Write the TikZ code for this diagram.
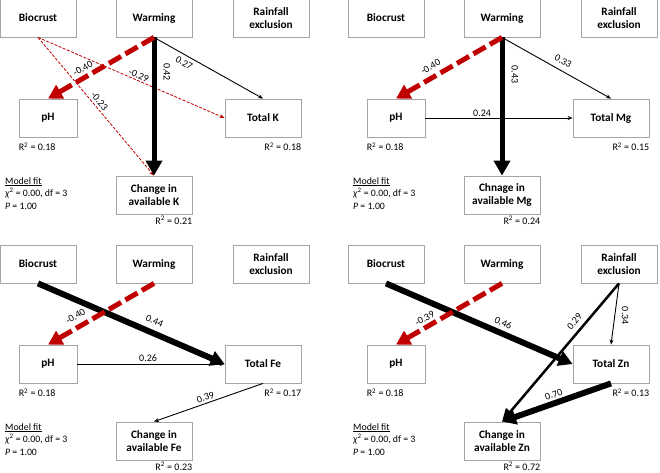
\documentclass[tikz,border=0pt]{standalone}
\usepackage{fontspec}
\setmainfont{Carlito}
\usetikzlibrary{arrows.meta}
\definecolor{myred}{HTML}{C00000}
\definecolor{boxgray}{HTML}{A5A5A5}
\newcommand\boxfont{\fontsize{11.3}{13.7}\selectfont\bfseries}
\newcommand\lblfont{\fontsize{10}{12}\selectfont}
\newcommand\mffont{\fontsize{9.8}{12.5}\selectfont}
\begin{document}
\begin{tikzpicture}[x=1pt,y=-1pt,
  box/.style={draw=boxgray, line width=0.8pt, minimum width=76pt, minimum height=38pt, inner sep=1pt, align=center, font=\boxfont},
  phbox/.style={box, minimum width=58pt},
  lbl/.style={font=\lblfont, inner sep=1pt},
  rsq/.style={font=\lblfont, inner sep=0pt},
  mf/.style={font=\mffont, inner sep=0pt, align=left},
  thinarr/.style={line width=0.9pt, -{Stealth[length=5pt,width=4pt]}},
  thinred/.style={draw=myred, line width=0.8pt, dash pattern=on 3pt off 1.5pt, -{Stealth[length=5pt,width=4pt]}},
  thickred/.style={draw=myred, line width=5pt, dash pattern=on 14pt off 5pt, -{Triangle[length=14pt,width=15pt]}},
  thickarr/.style={line width=5pt, -{Triangle[length=15pt,width=16pt]}},
  heavyarr/.style={line width=6pt, -{Triangle[length=14pt,width=15pt]}},
  medarr/.style={line width=2.5pt, -{Triangle[length=13pt,width=11pt]}},
  vlbl/.style={lbl, rotate=-90, anchor=south}
]
\useasboundingbox (0,0) rectangle (660,472);

% ---------------- Panel 1 (K) ----------------
\begin{scope}
\node[box] (B1) at (38,18) {Biocrust};
\node[box] (W1) at (154,18) {Warming};
\node[box] (R1) at (271,18) {Rainfall\\exclusion};
\node[phbox] (P1) at (48,118) {pH};
\node[box] (T1) at (263,118) {Total K};
\node[box] (C1) at (154,195) {Change in\\available K};
\draw[thinred] (B1.south) -- node[lbl, sloped, above, pos=0.53, inner sep=1pt] {-0.29} (T1.west);
\draw[thinred] (B1.south) -- node[lbl, sloped, above, pos=0.49, inner sep=2.4pt] {-0.23} (C1.north);
\draw[thinarr] (W1.south) -- node[lbl, sloped, below, pos=0.31, inner sep=3.7pt] {0.27} (T1.north);
\draw[thickarr] (W1.south) -- node[vlbl, pos=0.25, inner ysep=7pt] {0.42} (C1.north);
\draw[thickred] (W1.south) -- node[lbl, sloped, above, pos=0.63, inner sep=3pt] {-0.40} (P1.north);
\node[rsq, anchor=base west] (RP1) at ([yshift=-13.5pt]P1.south west) {R\textsuperscript{2} = 0.18};
\node[rsq, anchor=base east] (RT1) at ([yshift=-13.5pt]T1.south east) {R\textsuperscript{2} = 0.18};
\node[rsq, anchor=base east] (RC1) at ([yshift=-10.2pt]C1.south east) {R\textsuperscript{2} = 0.21};
\node[mf, anchor=north west] (M1) at (5,177) {\underline{Model fit}\\\textit{χ}\textsuperscript{2} = 0.00, df = 3\\\textit{P} = 1.00};
\end{scope}

% ---------------- Panel 2 (Mg) ----------------
\begin{scope}[shift={(348,0)}]
\node[box] (B2) at (38,18) {Biocrust};
\node[box] (W2) at (154,18) {Warming};
\node[box] (R2) at (271,18) {Rainfall\\exclusion};
\node[phbox] (P2) at (48,118) {pH};
\node[box] (T2) at (263,118) {Total Mg};
\node[box] (C2) at (154,195) {Chnage in\\available Mg};
\draw[thinarr] (P2.east) -- node[lbl, above, pos=0.385, inner sep=1pt] {0.24} (T2.west);
\draw[thinarr] (W2.south) -- node[lbl, sloped, above, pos=0.52, inner sep=5.4pt] {0.33} (T2.north);
\draw[thickarr] (W2.south) -- node[vlbl, pos=0.27, inner ysep=7pt] {0.43} (C2.north);
\draw[thickred] (W2.south) -- node[lbl, sloped, above, pos=0.625, inner sep=4.4pt] {-0.40} (P2.north);
\node[rsq, anchor=base west] (RP2) at ([yshift=-13.5pt]P2.south west) {R\textsuperscript{2} = 0.18};
\node[rsq, anchor=base east] (RT2) at ([yshift=-13.5pt]T2.south east) {R\textsuperscript{2} = 0.15};
\node[rsq, anchor=base east] (RC2) at ([yshift=-10.2pt]C2.south east) {R\textsuperscript{2} = 0.24};
\node[mf, anchor=north west] (M2) at (5,177) {\underline{Model fit}\\\textit{χ}\textsuperscript{2} = 0.00, df = 3\\\textit{P} = 1.00};
\end{scope}

% ---------------- Panel 3 (Fe) ----------------
\begin{scope}[shift={(0,246)}]
\node[box] (B3) at (38,18) {Biocrust};
\node[box] (W3) at (154,18) {Warming};
\node[box] (R3) at (271,18) {Rainfall\\exclusion};
\node[phbox] (P3) at (48,118) {pH};
\node[box] (T3) at (263,118) {Total Fe};
\node[box] (C3) at (154,195) {Change in\\available Fe};
\draw[thinarr] (P3.east) -- node[lbl, above, pos=0.48, inner sep=2pt] {0.26} (T3.west);
\draw[thinarr] (T3.south) -- node[lbl, sloped, above, pos=0.51, inner sep=2.2pt] {0.39} (C3.north);
\draw[heavyarr] (B3.south) -- node[lbl, sloped, above, pos=0.6, inner sep=5.3pt] {0.44} (T3.west);
\draw[thickred] (W3.south) -- node[lbl, sloped, above, pos=0.69, inner sep=5pt] {-0.40} (P3.north);
\node[rsq, anchor=base west] (RP3) at ([yshift=-13.5pt]P3.south west) {R\textsuperscript{2} = 0.18};
\node[rsq, anchor=base east] (RT3) at ([yshift=-13.5pt]T3.south east) {R\textsuperscript{2} = 0.17};
\node[rsq, anchor=base east] (RC3) at ([yshift=-10.2pt]C3.south east) {R\textsuperscript{2} = 0.23};
\node[mf, anchor=north west] (M3) at (5,177) {\underline{Model fit}\\\textit{χ}\textsuperscript{2} = 0.00, df = 3\\\textit{P} = 1.00};
\end{scope}

% ---------------- Panel 4 (Zn) ----------------
\begin{scope}[shift={(348,246)}]
\node[box] (B4) at (38,18) {Biocrust};
\node[box] (W4) at (154,18) {Warming};
\node[box] (R4) at (271,18) {Rainfall\\exclusion};
\node[phbox] (P4) at (48,118) {pH};
\node[box] (T4) at (263,118) {Total Zn};
\node[box] (C4) at (154,195) {Change in\\available Zn};
\draw[thinarr] (R4.south) -- node[vlbl, pos=0.53, inner ysep=6.5pt] {0.34} (T4.north);
\draw[medarr] (R4.south) -- node[lbl, sloped, above, pos=0.32, inner sep=4.6pt] {0.29} (C4.north);
\draw[heavyarr] (T4.south) -- node[lbl, sloped, above, pos=0.5, inner sep=2pt] {0.70} (C4.north);
\draw[heavyarr] (B4.south) -- node[lbl, sloped, above, pos=0.607, inner sep=3.6pt] {0.46} (T4.west);
\draw[thickred] (W4.south) -- node[lbl, sloped, above, pos=0.69, inner sep=2.6pt] {-0.39} (P4.north);
\node[rsq, anchor=base west] (RP4) at ([yshift=-13.5pt]P4.south west) {R\textsuperscript{2} = 0.18};
\node[rsq, anchor=base east] (RT4) at ([yshift=-13.5pt]T4.south east) {R\textsuperscript{2} = 0.13};
\node[rsq, anchor=base east] (RC4) at ([yshift=-10.2pt]C4.south east) {R\textsuperscript{2} = 0.72};
\node[mf, anchor=north west] (M4) at (5,177) {\underline{Model fit}\\\textit{χ}\textsuperscript{2} = 0.00, df = 3\\\textit{P} = 1.00};
\end{scope}
\end{tikzpicture}
\end{document}
